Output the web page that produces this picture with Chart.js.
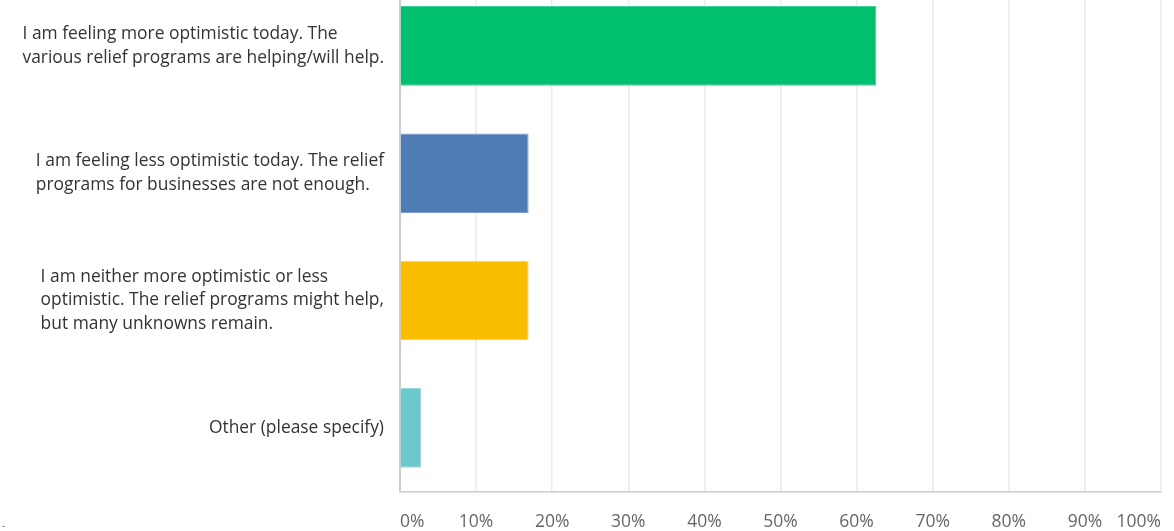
<!DOCTYPE html>
<html>
<head>
<meta charset="utf-8">
<script src="https://cdn.jsdelivr.net/npm/chart.js@4/dist/chart.umd.min.js"></script>
<style>
  html, body { margin: 0; padding: 0; background: #fff; }
  #wrap { position: relative; width: 1174px; height: 531px; }
</style>
</head>
<body>
<div id="wrap"><canvas id="sentimentChart"></canvas></div>
<script>
// answer choices, one array of wrapped lines per bar
const answers = [
  ['I am feeling more optimistic today. The', 'various relief programs are helping/will help.'],
  ['I am feeling less optimistic today. The relief', 'programs for businesses are not enough.'],
  ['I am neither more optimistic or less', 'optimistic. The relief programs might help,', 'but many unknowns remain.'],
  ['Other (please specify)']
];
const percents = [62.6, 16.9, 16.9, 2.8];
const barColors = ['#00bf6f', '#507cb6', '#f9be00', '#6bc8cd'];
const barEdges = ['#3ed494', '#7a9fd0', '#fbd04a', '#93d8dc'];
const xTicks = [0, 10, 20, 30, 40, 50, 60, 70, 80, 90, 100];

const FONT = '"Open Sans", "Noto Sans", sans-serif';

// draws the wrapped answer text to the left of each bar
const answerLabels = {
  id: 'answerLabels',
  afterDraw(chart) {
    const ctx = chart.ctx;
    const yScale = chart.scales.y;
    const left = chart.chartArea.left;
    ctx.save();
    ctx.font = '17.4px ' + FONT;
    ctx.fillStyle = '#333';
    ctx.textAlign = 'left';
    ctx.textBaseline = 'middle';
    answers.forEach((lines, i) => {
      const w = Math.max(...lines.map(l => ctx.measureText(l).width));
      const cy = yScale.getPixelForValue(i);
      const x0 = left - 16 - w;
      lines.forEach((line, j) => {
        ctx.fillText(line, x0, cy + (j - (lines.length - 1) / 2) * 23.5);
      });
    });
    ctx.font = '9px ' + FONT;
    ctx.fillText('-', 2, 526);
    ctx.restore();
  }
};

const ctx = document.getElementById('sentimentChart').getContext('2d');
const chart = new Chart(ctx, {
  type: 'bar',
  data: {
    datasets: [{
      data: percents.map((v, i) => ({ x: v, y: i })),
      backgroundColor: barColors,
      borderColor: barEdges,
      borderWidth: 1,
      categoryPercentage: 1,
      barPercentage: 0.625
    }]
  },
  options: {
    indexAxis: 'y',
    responsive: true,
    maintainAspectRatio: false,
    animation: false,
    layout: { padding: { left: 0, right: 13, top: 0, bottom: 0 } },
    plugins: {
      legend: { display: false },
      tooltip: { enabled: false }
    },
    scales: {
      x: {
        type: 'linear',
        position: 'bottom',
        min: 0,
        max: 100,
        afterBuildTicks: s => { s.ticks = xTicks.map(v => ({ value: v })); },
        afterFit: s => { s.height = 39.5; s.paddingLeft = 0; s.paddingRight = 0; },
        grid: {
          color: c => c.index === 0 ? 'rgba(0,0,0,0)' : '#ebebeb',
          lineWidth: 1.5,
          drawTicks: false
        },
        border: { color: '#cccccc', width: 1.5 },
        ticks: {
          align: 'inner',
          padding: 20,
          autoSkip: false,
          maxRotation: 0,
          color: '#666',
          font: { family: FONT, size: 17.5 },
          callback: v => v + '%'
        }
      },
      y: {
        type: 'linear',
        reverse: true,
        offset: false,
        min: -0.36,
        max: 3.5,
        // one tick per answer so the bars take their width from the answer spacing
        afterBuildTicks: s => { s.ticks = answers.map((a, i) => ({ value: i })); },
        afterFit: s => { s.width = 400; },
        grid: { display: false },
        border: { color: '#cccccc', width: 2 },
        ticks: { display: false }
      }
    }
  },
  plugins: [answerLabels]
});
</script>
</body>
</html>
